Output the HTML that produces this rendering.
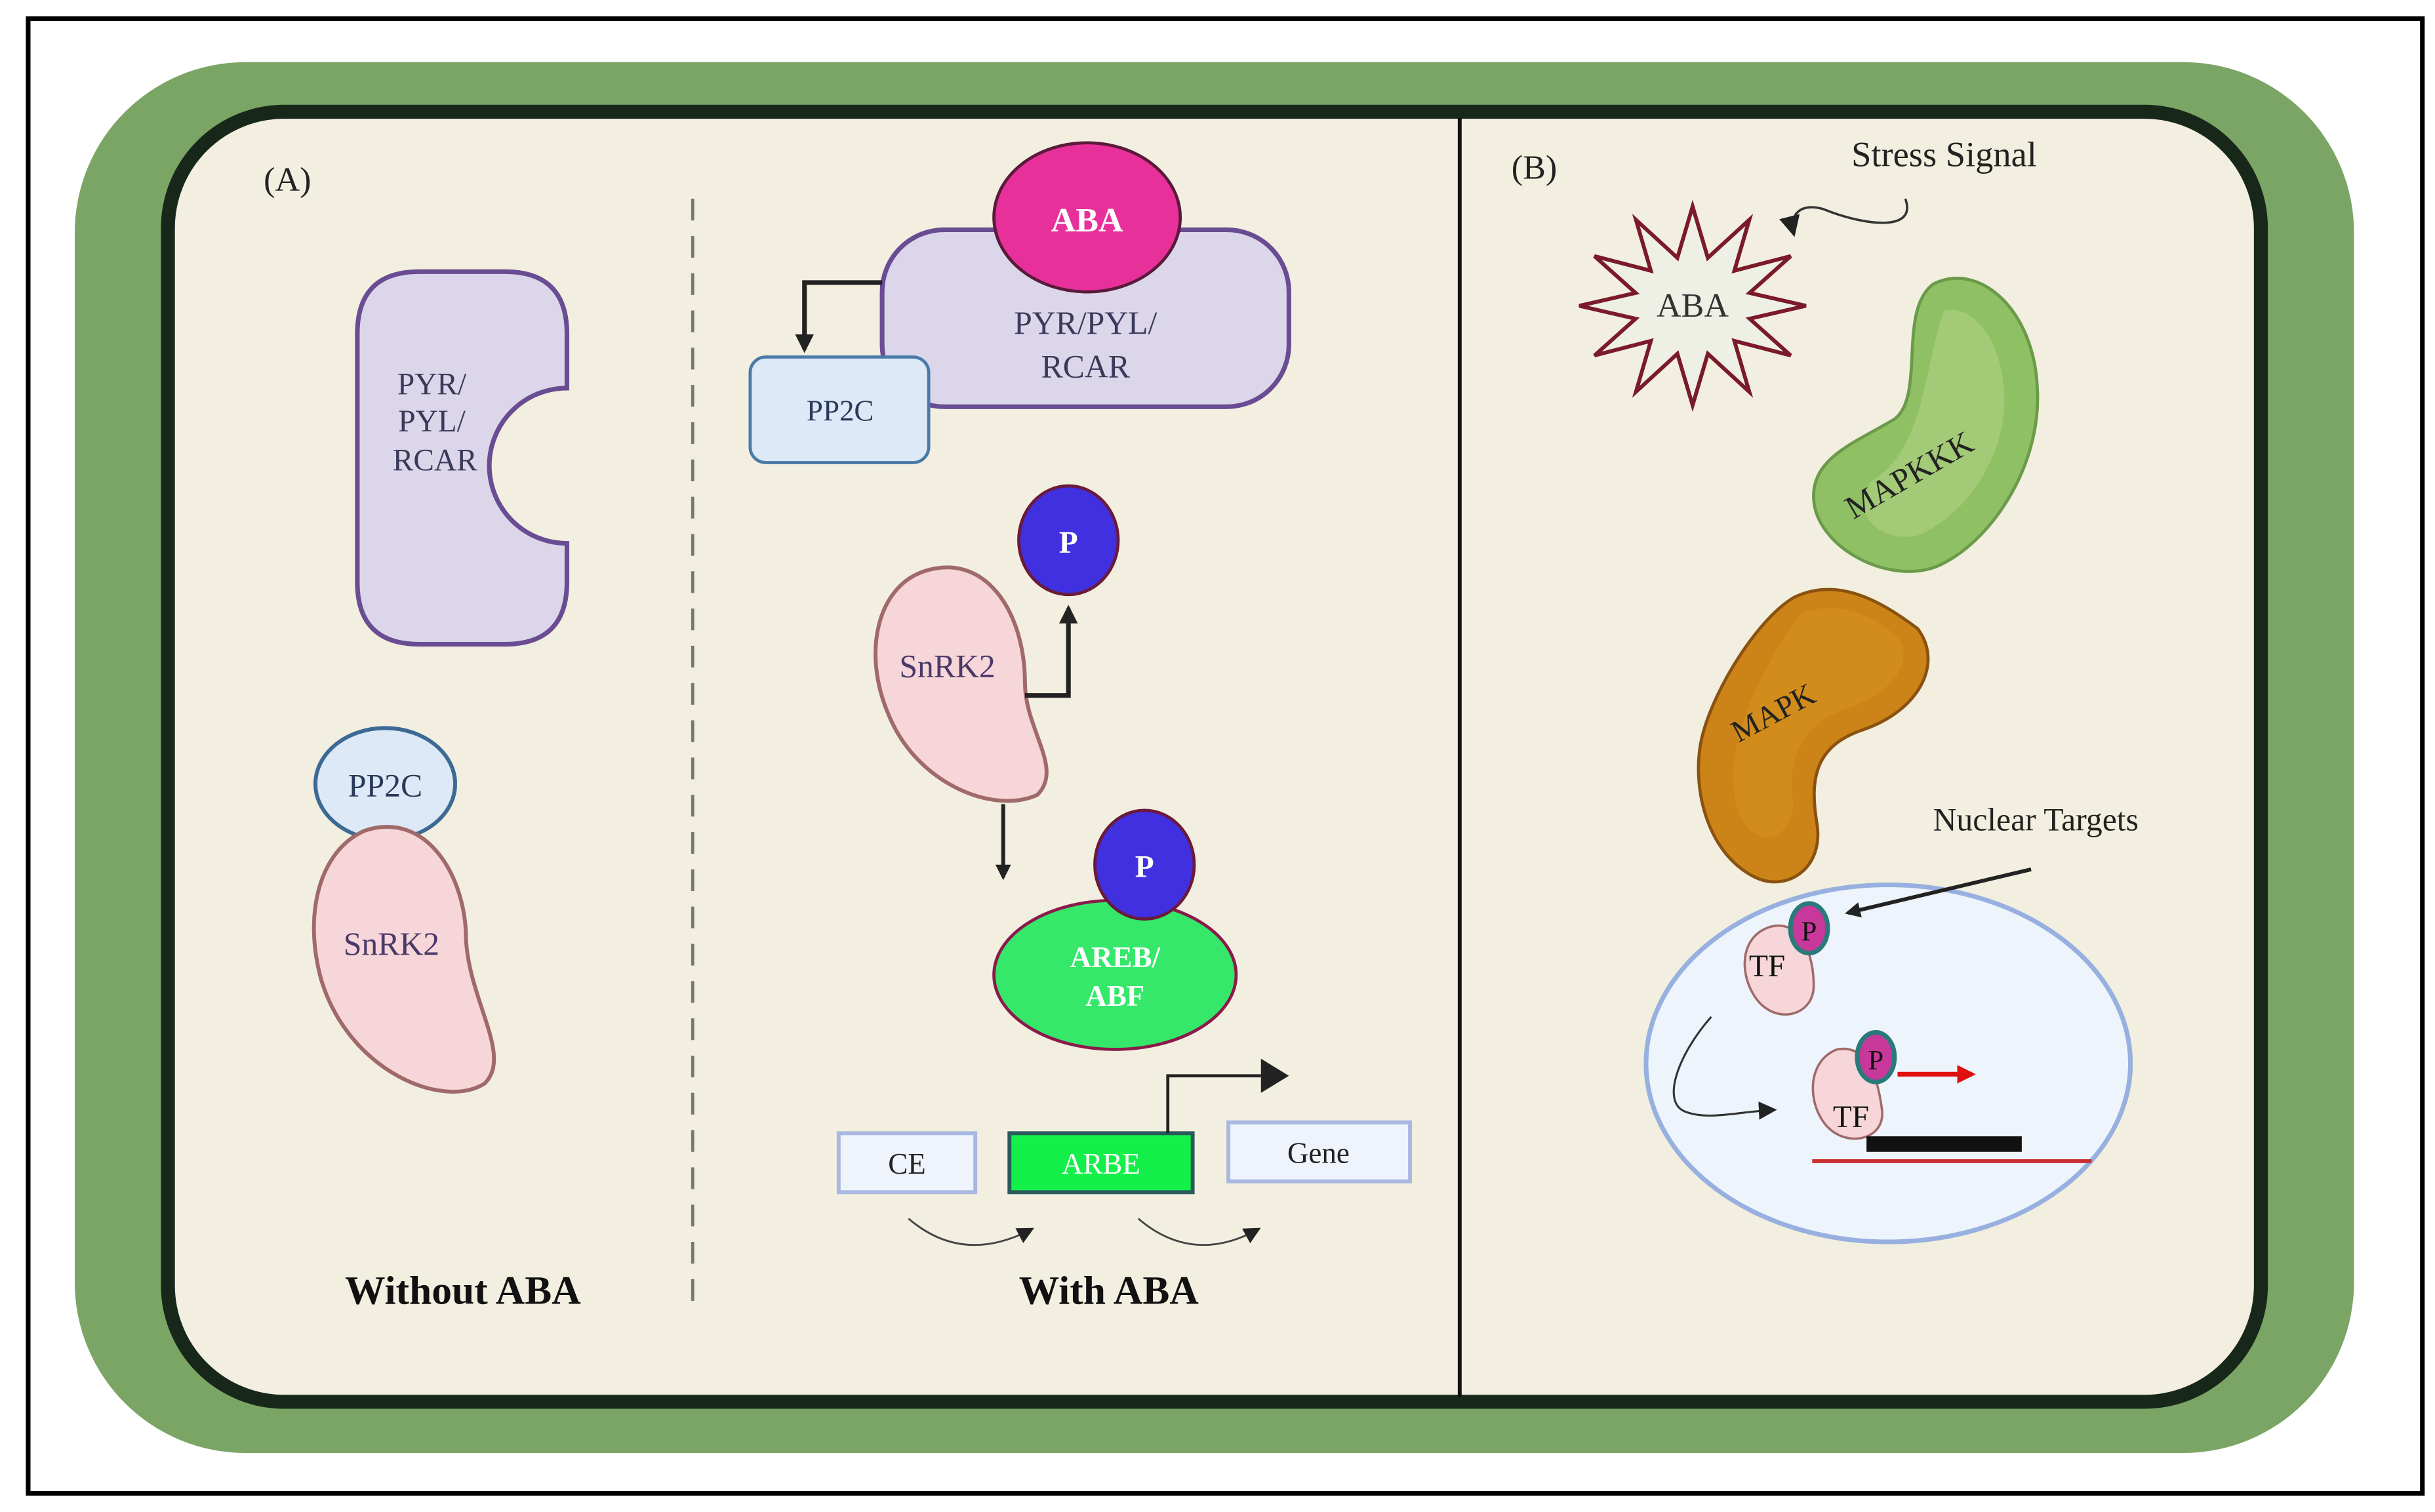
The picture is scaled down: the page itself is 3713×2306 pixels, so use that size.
<!DOCTYPE html>
<html><head><meta charset="utf-8"><style>html,body{margin:0;padding:0;background:#fff}svg{display:block}</style></head>
<body>
<svg width="3713" height="2306" viewBox="0 0 1568 974" xmlns="http://www.w3.org/2000/svg" font-family="'Liberation Serif', serif">
<defs>
<marker id="ah" viewBox="0 0 10 10" refX="8" refY="5" markerWidth="4" markerHeight="4" orient="auto"><path d="M0,0 L10,5 L0,10 Z" fill="#222"/></marker>
<marker id="ahs" viewBox="0 0 10 10" refX="8" refY="5" markerWidth="9" markerHeight="9" orient="auto"><path d="M0,0 L10,5 L0,10 Z" fill="#222"/></marker>
<marker id="ahr" viewBox="0 0 10 10" refX="8" refY="5" markerWidth="4" markerHeight="4" orient="auto"><path d="M0,0 L10,5 L0,10 Z" fill="#e01010"/></marker>
</defs>
<rect x="0" y="0" width="1568" height="974" fill="#fff"/>
<rect x="18" y="12" width="1542" height="950" fill="#fff" stroke="#000" stroke-width="3"/>
<rect x="48" y="40" width="1468" height="896" rx="110" fill="#7aa565"/>
<rect x="108" y="72" width="1348" height="831" rx="75" fill="#f2efe0" stroke="#17281a" stroke-width="9"/>
<line x1="940" y1="76" x2="940" y2="900" stroke="#111" stroke-width="2.5"/>
<line x1="446" y1="128" x2="446" y2="838" stroke="#777" stroke-width="2" stroke-dasharray="14,10"/>

<text x="185" y="123" font-size="22" text-anchor="middle" fill="#222">(A)</text>
<text x="988" y="115" font-size="22" text-anchor="middle" fill="#222">(B)</text>

<path d="M270,175 H325 Q365,175 365,215 V250 A50,50 0 0 0 365,350 V375 Q365,415 325,415 H270 Q230,415 230,375 V215 Q230,175 270,175 Z" fill="#dcd6ea" stroke="#6a4c93" stroke-width="3"/>
<text font-size="20" fill="#3a3a5a" text-anchor="middle"><tspan x="278" y="254">PYR/</tspan><tspan x="278" y="278">PYL/</tspan><tspan x="280" y="303">RCAR</tspan></text>
<ellipse cx="248" cy="505" rx="45" ry="36" fill="#dde9f7" stroke="#3d6a95" stroke-width="2.5"/>
<text x="248" y="513" font-size="21" fill="#2a3a5a" text-anchor="middle">PP2C</text>
<path d="M235,535 C275,522 300,565 300,605 C302,645 330,680 312,698 C285,715 225,690 207,632 C195,590 205,548 235,535 Z" fill="#f6d6d8" stroke="#a06a6a" stroke-width="2.5"/>
<text x="252" y="615" font-size="21" fill="#4a3a6a" text-anchor="middle">SnRK2</text>
<text x="298" y="840" font-size="26" font-weight="bold" text-anchor="middle" fill="#111">Without ABA</text>

<rect x="568" y="148" width="262" height="114" rx="40" fill="#dcd6ea" stroke="#6a4c93" stroke-width="3"/>
<ellipse cx="700" cy="140" rx="60" ry="48" fill="#e8309a" stroke="#5a1a3a" stroke-width="2"/>
<text x="700" y="149" font-size="22" font-weight="bold" fill="#fff" text-anchor="middle">ABA</text>
<text font-size="21" fill="#3a3a5a" text-anchor="middle"><tspan x="699" y="215">PYR/PYL/</tspan><tspan x="699" y="243">RCAR</tspan></text>
<path d="M568,182 H518 V225" fill="none" stroke="#222" stroke-width="3" marker-end="url(#ah)"/>
<rect x="483" y="230" width="115" height="68" rx="10" fill="#dde9f7" stroke="#4a7aa8" stroke-width="2"/>
<text x="541" y="271" font-size="19" fill="#2a3a5a" text-anchor="middle">PP2C</text>

<path d="M595,368 C635,355 660,395 660,440 C660,470 685,495 668,512 C640,525 590,505 572,460 C555,420 565,378 595,368 Z" fill="#f6d6d8" stroke="#a06a6a" stroke-width="2.5"/>
<text x="610" y="436" font-size="21" fill="#4a3a6a" text-anchor="middle">SnRK2</text>
<path d="M660,448 H688 V392" fill="none" stroke="#222" stroke-width="3" marker-end="url(#ah)"/>
<ellipse cx="688" cy="348" rx="32" ry="35" fill="#4030e0" stroke="#6a1a3a" stroke-width="2"/>
<text x="688" y="356" font-size="20" font-weight="bold" fill="#fff" text-anchor="middle">P</text>
<path d="M646,518 V565" stroke="#222" stroke-width="2.5" marker-end="url(#ah)"/>

<ellipse cx="718" cy="628" rx="78" ry="48" fill="#35e86a" stroke="#8a1a4a" stroke-width="2"/>
<ellipse cx="737" cy="557" rx="32" ry="35" fill="#4030e0" stroke="#6a1a3a" stroke-width="2"/>
<text x="737" y="565" font-size="20" font-weight="bold" fill="#fff" text-anchor="middle">P</text>
<text font-size="19" font-weight="bold" fill="#fff" text-anchor="middle"><tspan x="718" y="623">AREB/</tspan><tspan x="718" y="648">ABF</tspan></text>

<rect x="540" y="730" width="88" height="38" fill="#eef3fc" stroke="#a8b8e0" stroke-width="2.5"/>
<text x="584" y="756" font-size="19" fill="#222" text-anchor="middle">CE</text>
<rect x="650" y="730" width="118" height="38" fill="#14f04a" stroke="#2a5a5a" stroke-width="2.5"/>
<text x="709" y="756" font-size="19" fill="#fff" text-anchor="middle">ARBE</text>
<rect x="791" y="723" width="117" height="38" fill="#eef3fc" stroke="#a8b8e0" stroke-width="2.5"/>
<text x="849" y="749" font-size="19" fill="#222" text-anchor="middle">Gene</text>
<path d="M752,730 V693 H812" fill="none" stroke="#222" stroke-width="2"/>
<path d="M812,682 L830,693 L812,704 Z" fill="#222"/>
<path d="M585,785 Q620,815 664,792" fill="none" stroke="#444" stroke-width="1.2" marker-end="url(#ahs)"/>
<path d="M733,785 Q768,815 810,792" fill="none" stroke="#444" stroke-width="1.2" marker-end="url(#ahs)"/>
<text x="714" y="840" font-size="26" font-weight="bold" text-anchor="middle" fill="#111">With ABA</text>

<text x="1252" y="107" font-size="23" fill="#222" text-anchor="middle">Stress Signal</text>
<path d="M1227,128 C1235,150 1200,145 1175,135 C1160,130 1152,138 1155,150" fill="none" stroke="#333" stroke-width="1.5" marker-end="url(#ahs)"/>
<polygon points="1163,197 1126.7,205.3 1153.2,229 1116.9,219.6 1126.5,252.4 1099.8,227.9 1090,261 1080.2,227.9 1053.5,252.4 1063.1,219.6 1026.8,229 1053.3,205.3 1017,197 1053.3,188.7 1026.8,165 1063.1,174.4 1053.5,141.6 1080.2,166.1 1090,133 1099.8,166.1 1126.5,141.6 1116.9,174.4 1153.2,165 1126.7,188.7" fill="#eef0e6" stroke="#7a1a2a" stroke-width="2.5"/>
<text x="1090" y="204" font-size="22" fill="#333" text-anchor="middle">ABA</text>

<path d="M1245,183 C1275,168 1310,200 1312,250 C1315,300 1282,350 1247,365 C1215,377 1170,352 1168,322 C1166,295 1195,285 1220,270 C1240,255 1222,200 1245,183 Z" fill="#8fc064" stroke="#6a9a4a" stroke-width="2"/>
<path d="M1252,200 C1275,195 1295,230 1290,270 C1285,305 1260,335 1235,345 C1210,350 1190,330 1205,310 C1240,290 1240,230 1252,200 Z" fill="#a8cc7a" opacity="0.8"/>
<text x="1233" y="312" font-size="21" fill="#222" text-anchor="middle" transform="rotate(-30 1233 312)">MAPKKK</text>

<path d="M1155,385 C1185,370 1215,390 1235,405 C1252,428 1235,458 1200,470 C1170,480 1165,500 1170,530 C1175,560 1150,575 1130,565 C1100,550 1090,510 1095,480 C1100,450 1130,400 1155,385 Z" fill="#cc8418" stroke="#8a5210" stroke-width="2"/>
<path d="M1160,395 C1185,385 1215,400 1225,415 C1230,435 1210,450 1185,458 C1160,468 1150,490 1155,520 C1150,545 1130,545 1120,525 C1110,495 1120,450 1160,395 Z" fill="#d4901c" opacity="0.7"/>
<text x="1145" y="465" font-size="20" fill="#222" text-anchor="middle" transform="rotate(-28 1145 465)">MAPK</text>

<text x="1311" y="535" font-size="21" fill="#222" text-anchor="middle">Nuclear Targets</text>

<ellipse cx="1216" cy="685" rx="156" ry="115" fill="#eef4fc" stroke="#98b0e0" stroke-width="3"/>
<path d="M1308,560 L1190,588" stroke="#222" stroke-width="2.5" marker-end="url(#ah)"/>
<path d="M1140,597 C1160,592 1168,615 1168,635 C1168,652 1150,658 1138,650 C1122,640 1115,605 1140,597 Z" fill="#f6d6d8" stroke="#a06a6a" stroke-width="1.5"/>
<text x="1138" y="629" font-size="20" fill="#111" text-anchor="middle">TF</text>
<ellipse cx="1165" cy="598" rx="12" ry="16" fill="#c8389a" stroke="#2a7a7a" stroke-width="3"/>
<text x="1165" y="606" font-size="18" fill="#111" text-anchor="middle">P</text>

<path d="M1183,676 C1205,672 1210,700 1212,715 C1214,732 1195,738 1182,730 C1165,720 1160,685 1183,676 Z" fill="#f6d6d8" stroke="#a06a6a" stroke-width="1.5"/>
<text x="1192" y="726" font-size="20" fill="#111" text-anchor="middle">TF</text>
<ellipse cx="1208" cy="681" rx="12" ry="16" fill="#c8389a" stroke="#2a7a7a" stroke-width="3"/>
<text x="1208" y="689" font-size="18" fill="#111" text-anchor="middle">P</text>
<path d="M1222,692 H1270" stroke="#e01010" stroke-width="3" marker-end="url(#ahr)"/>
<rect x="1202" y="732" width="100" height="10" fill="#111"/>
<line x1="1167" y1="748" x2="1347" y2="748" stroke="#c83030" stroke-width="2.5"/>
<path d="M1102,655 C1080,680 1070,710 1085,716 C1100,722 1120,716 1142,715" fill="none" stroke="#333" stroke-width="1.3" marker-end="url(#ahs)"/>
</svg>
</body></html>
